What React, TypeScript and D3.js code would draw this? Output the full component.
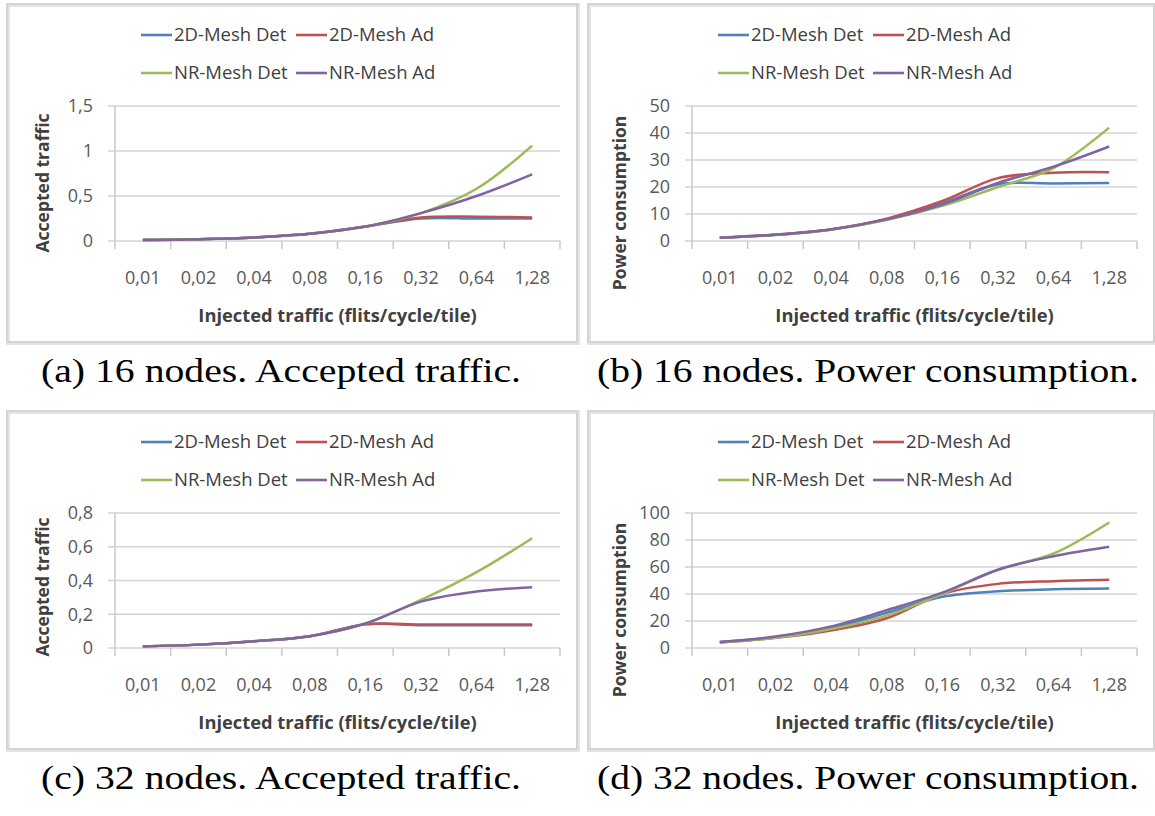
import React from "react";
import * as d3 from "d3";

const categories = ["0,01", "0,02", "0,04", "0,08", "0,16", "0,32", "0,64", "1,28"];
const seriesNames = ["2D-Mesh Det", "2D-Mesh Ad", "NR-Mesh Det", "NR-Mesh Ad"];
const seriesColors = ["#4F81BD", "#C0504D", "#9BBB59", "#8064A2"];

// (a) 16 nodes, accepted traffic
const accepted16Mesh2dDet = [0.01, 0.02, 0.04, 0.08, 0.16, 0.25, 0.25, 0.25];
const accepted16Mesh2dAd = [0.01, 0.02, 0.04, 0.08, 0.16, 0.26, 0.27, 0.26];
const accepted16NrDet = [0.01, 0.02, 0.04, 0.08, 0.16, 0.31, 0.58, 1.06];
const accepted16NrAd = [0.01, 0.02, 0.04, 0.08, 0.16, 0.31, 0.5, 0.74];

// (b) 16 nodes, power consumption
const power16Mesh2dDet = [1.2, 2.3, 4.3, 8.0, 14.0, 21.0, 21.3, 21.5];
const power16Mesh2dAd = [1.3, 2.4, 4.4, 8.3, 14.8, 23.3, 25.3, 25.5];
const power16NrDet = [1.2, 2.2, 4.2, 7.8, 13.0, 20.0, 27.0, 42.0];
const power16NrAd = [1.2, 2.3, 4.3, 8.0, 13.5, 21.5, 27.5, 35.0];

// (c) 32 nodes, accepted traffic
const accepted32Mesh2dDet = [0.01, 0.02, 0.04, 0.07, 0.14, 0.135, 0.135, 0.135];
const accepted32Mesh2dAd = [0.01, 0.02, 0.04, 0.07, 0.14, 0.14, 0.14, 0.14];
const accepted32NrDet = [0.01, 0.02, 0.04, 0.07, 0.145, 0.285, 0.45, 0.65];
const accepted32NrAd = [0.01, 0.02, 0.04, 0.07, 0.145, 0.275, 0.335, 0.36];

// (d) 32 nodes, power consumption
const power32Mesh2dDet = [4.5, 8, 15, 26, 38, 42, 43.5, 44];
const power32Mesh2dAd = [4, 7.5, 13, 22, 40, 47.5, 49.5, 50.5];
const power32NrDet = [4, 7.5, 14, 24, 40, 58, 70, 93];
const power32NrAd = [4.5, 8.5, 16, 28, 41, 58, 68, 75];

const ticksAccepted16 = [0, 0.5, 1, 1.5];
const ticksPower16 = [0, 10, 20, 30, 40, 50];
const ticksAccepted32 = [0, 0.2, 0.4, 0.6, 0.8];
const ticksPower32 = [0, 20, 40, 60, 80, 100];

const xTitle = "Injected traffic (flits/cycle/tile)";

const panels = [
  {
    ox: 0, oy: 0, frameX: 7,
    series: [accepted16Mesh2dDet, accepted16Mesh2dAd, accepted16NrDet, accepted16NrAd],
    ticks: ticksAccepted16, yTitle: "Accepted traffic", yTitleY: 183,
    caption: "(a) 16 nodes. Accepted traffic.", captionX: 281, captionW: 480,
  },
  {
    ox: 577, oy: 0, frameX: 11,
    series: [power16Mesh2dDet, power16Mesh2dAd, power16NrDet, power16NrAd],
    ticks: ticksPower16, yTitle: "Power consumption", yTitleY: 203,
    caption: "(b) 16 nodes. Power consumption.", captionX: 291, captionW: 542,
  },
  {
    ox: 0, oy: 407, frameX: 7,
    series: [accepted32Mesh2dDet, accepted32Mesh2dAd, accepted32NrDet, accepted32NrAd],
    ticks: ticksAccepted32, yTitle: "Accepted traffic", yTitleY: 180,
    caption: "(c) 32 nodes. Accepted traffic.", captionX: 281, captionW: 480,
  },
  {
    ox: 577, oy: 407, frameX: 11,
    series: [power32Mesh2dDet, power32Mesh2dAd, power32NrDet, power32NrAd],
    ticks: ticksPower32, yTitle: "Power consumption", yTitleY: 203,
    caption: "(d) 32 nodes. Power consumption.", captionX: 291, captionW: 542,
  },
];

const fmt = (v: number) => String(v).replace(".", ",");
const sans = "'Open Sans', 'DejaVu Sans', sans-serif";

function Panel({ p }: { p: (typeof panels)[number] }) {
  const plotLeft = 115;
  const plotRight = 560;
  const plotTop = 106;
  const plotBottom = 241;
  const x = d3.scaleBand<string>().domain(categories).range([plotLeft, plotRight]);
  const yMax = p.ticks[p.ticks.length - 1];
  const y = d3.scaleLinear().domain([0, yMax]).range([plotBottom, plotTop]);
  const cx = (c: string) => (x(c) as number) + x.bandwidth() / 2;
  const line = d3
    .line<number>()
    .x((_, i) => cx(categories[i]))
    .y((v) => y(v))
    .curve(d3.curveCatmullRom.alpha(0.5));

  const legendRows = [35, 73];
  const legendCols = [141, 296];
  const frameW = 577 - p.frameX;

  return (
    <g transform={`translate(${p.ox},${p.oy})`}>
      {/* chart frame */}
      <rect x={p.frameX + 1} y={5} width={frameW} height={338} fill="#ffffff" stroke="#e3e3e3" strokeWidth={4} />
      <rect x={p.frameX} y={4} width={frameW} height={338} fill="none" stroke="#cfcfcf" strokeWidth={1.5} />

      {/* legend */}
      {seriesNames.map((name, i) => {
        const lx = legendCols[i % 2];
        const ly = legendRows[Math.floor(i / 2)];
        return (
          <g key={name}>
            <line x1={lx} x2={lx + 31} y1={ly} y2={ly} stroke={seriesColors[i]} strokeWidth={2.6} />
            <text x={lx + 33} y={ly} dy="0.35em" fontFamily={sans} fontSize={18.5} fill="#404040">
              {name}
            </text>
          </g>
        );
      })}

      {/* gridlines and y axis */}
      {p.ticks.map((t) => (
        <g key={t}>
          <line x1={plotLeft - 7} x2={plotRight} y1={y(t)} y2={y(t)} stroke="#d4d4d4" strokeWidth={1.6} />
          <text x={93} y={y(t)} dy="0.35em" textAnchor="end" fontFamily={sans} fontSize={18} fill="#595959">
            {fmt(t)}
          </text>
        </g>
      ))}
      <line x1={plotLeft} x2={plotLeft} y1={plotTop} y2={plotBottom} stroke="#c8c8c8" strokeWidth={1.5} />

      {/* x axis ticks and labels */}
      {categories.map((c, i) => (
        <g key={c}>
          <line x1={(x(c) as number) + x.bandwidth()} x2={(x(c) as number) + x.bandwidth()} y1={plotBottom} y2={plotBottom + 8} stroke="#c8c8c8" strokeWidth={1.5} />
          {i === 0 && <line x1={plotLeft} x2={plotLeft} y1={plotBottom} y2={plotBottom + 8} stroke="#c8c8c8" strokeWidth={1.5} />}
          <text x={cx(c)} y={278} dy="0.35em" textAnchor="middle" fontFamily={sans} fontSize={18} fill="#595959">
            {c}
          </text>
        </g>
      ))}

      {/* series */}
      {p.series.map((vals, i) => (
        <path key={i} d={line(vals) as string} fill="none" stroke={seriesColors[i]} strokeWidth={2.5} />
      ))}

      {/* axis titles */}
      <text x={(plotLeft + plotRight) / 2} y={316} dy="0.35em" textAnchor="middle" fontFamily={sans} fontWeight="bold" fontSize={18.3} fill="#404040">
        {xTitle}
      </text>
      <text
        transform={`translate(43,${p.yTitleY}) rotate(-90)`}
        textAnchor="middle"
        dy="0.35em"
        fontFamily={sans}
        fontWeight="bold"
        fontSize={17.5}
        fill="#404040"
      >
        {p.yTitle}
      </text>

      {/* subfigure caption */}
      <text
        x={p.captionX}
        y={382}
        textAnchor="middle"
        fontFamily="'Liberation Serif', 'DejaVu Serif', serif"
        fontSize={34}
        fill="#000000"
        textLength={p.captionW}
        lengthAdjust="spacingAndGlyphs"
      >
        {p.caption}
      </text>
    </g>
  );
}

export default function App() {
  return (
    <svg
      width={1155}
      height={816}
      viewBox="0 0 1155 816"
      style={{ position: "absolute", left: 0, top: 0, background: "#ffffff" }}
    >
      <rect width={1155} height={816} fill="#ffffff" />
      {panels.map((p, i) => (
        <Panel key={i} p={p} />
      ))}
    </svg>
  );
}
